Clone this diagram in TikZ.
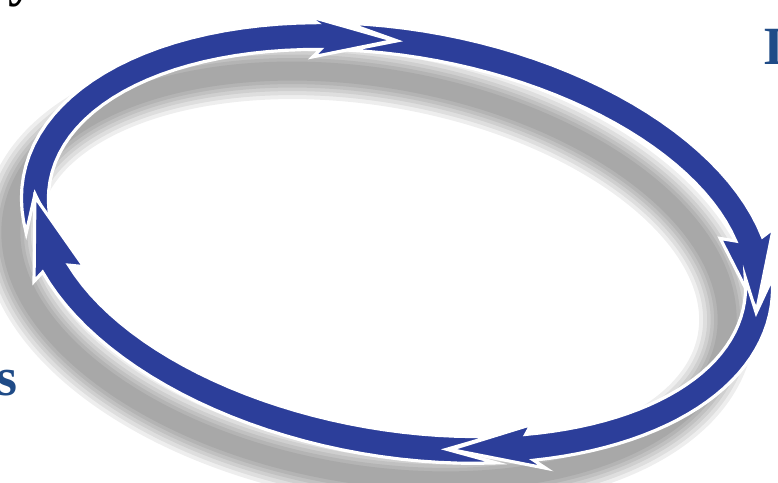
\documentclass[tikz,border=0pt]{standalone}
\usepackage{fontspec}
\setmainfont{Liberation Serif}

\definecolor{ringblue}{RGB}{44,62,154}
\definecolor{textblue}{RGB}{31,75,135}

% ring geometry (px)
\newcommand{\ringa}{366}
\newcommand{\ringb}{200}
\newcommand{\bandw}{13.5}
% #1 tail corners, #2 notch, #3 head back, #4 tip, #5 head half width
\newcommand{\ringarrow}[5]{%
  \filldraw[band]
    plot[domain=#1:#3, samples=30] ({(\ringa+\bandw)*cos(\x)}, {(\ringb+\bandw)*sin(\x)})
    -- ({(\ringa+#5)*cos(#3-1.5)}, {(\ringb+#5)*sin(#3-1.5)})
    -- ({\ringa*cos(#4)}, {\ringb*sin(#4)})
    -- ({(\ringa-#5)*cos(#3-1.5)}, {(\ringb-#5)*sin(#3-1.5)})
    -- plot[domain=#3:#1, samples=30] ({(\ringa-\bandw)*cos(\x)}, {(\ringb-\bandw)*sin(\x)})
    -- ({\ringa*cos(#2)}, {\ringb*sin(#2)}) -- cycle;
}

\begin{document}
\begin{tikzpicture}[x=0.01cm, y=-0.01cm,
    band/.style={fill=ringblue, draw=white, line width=0.9pt, line join=miter},
    shade/.style={draw=black, opacity=0.065},
    lbl/.style={font=\fontsize{15.3}{18}\selectfont\bfseries, inner sep=0pt, text=textblue}
  ]
  \useasboundingbox (0,0) rectangle (778,483);
  \clip (0,0) rectangle (778,483);
  \fill[white] (0,0) rectangle (778,483);

  % letters cut off at the edges
  \node[lbl, text=black, anchor=base] (ytail) at (22,-4) {y};
  \node[lbl, anchor=base west] (Ihead) at (763,65) {I};
  \node[lbl, anchor=base east] (sleft) at (18,396) {s};

  % soft shadow
  \begin{scope}[shift={(369,276)}, rotate=-10]
    \foreach \w in {5.6,4.8,4,3.3,2.6,1.9}
      \draw[shade, line width=\w mm] (0,0) ellipse [x radius=\ringa-4, y radius=\ringb-2];
  \end{scope}

  % the four arrows
  \begin{scope}[shift={(397,243)}, rotate=-10]
    \ringarrow{165.2}{175.8}{252}{264}{21}
    \ringarrow{256.8}{264.5}{341}{361}{27}
    \ringarrow{351.8}{361.8}{423}{436}{23}
    \ringarrow{429}{436.6}{515}{535}{26}
  \end{scope}
\end{tikzpicture}
\end{document}
